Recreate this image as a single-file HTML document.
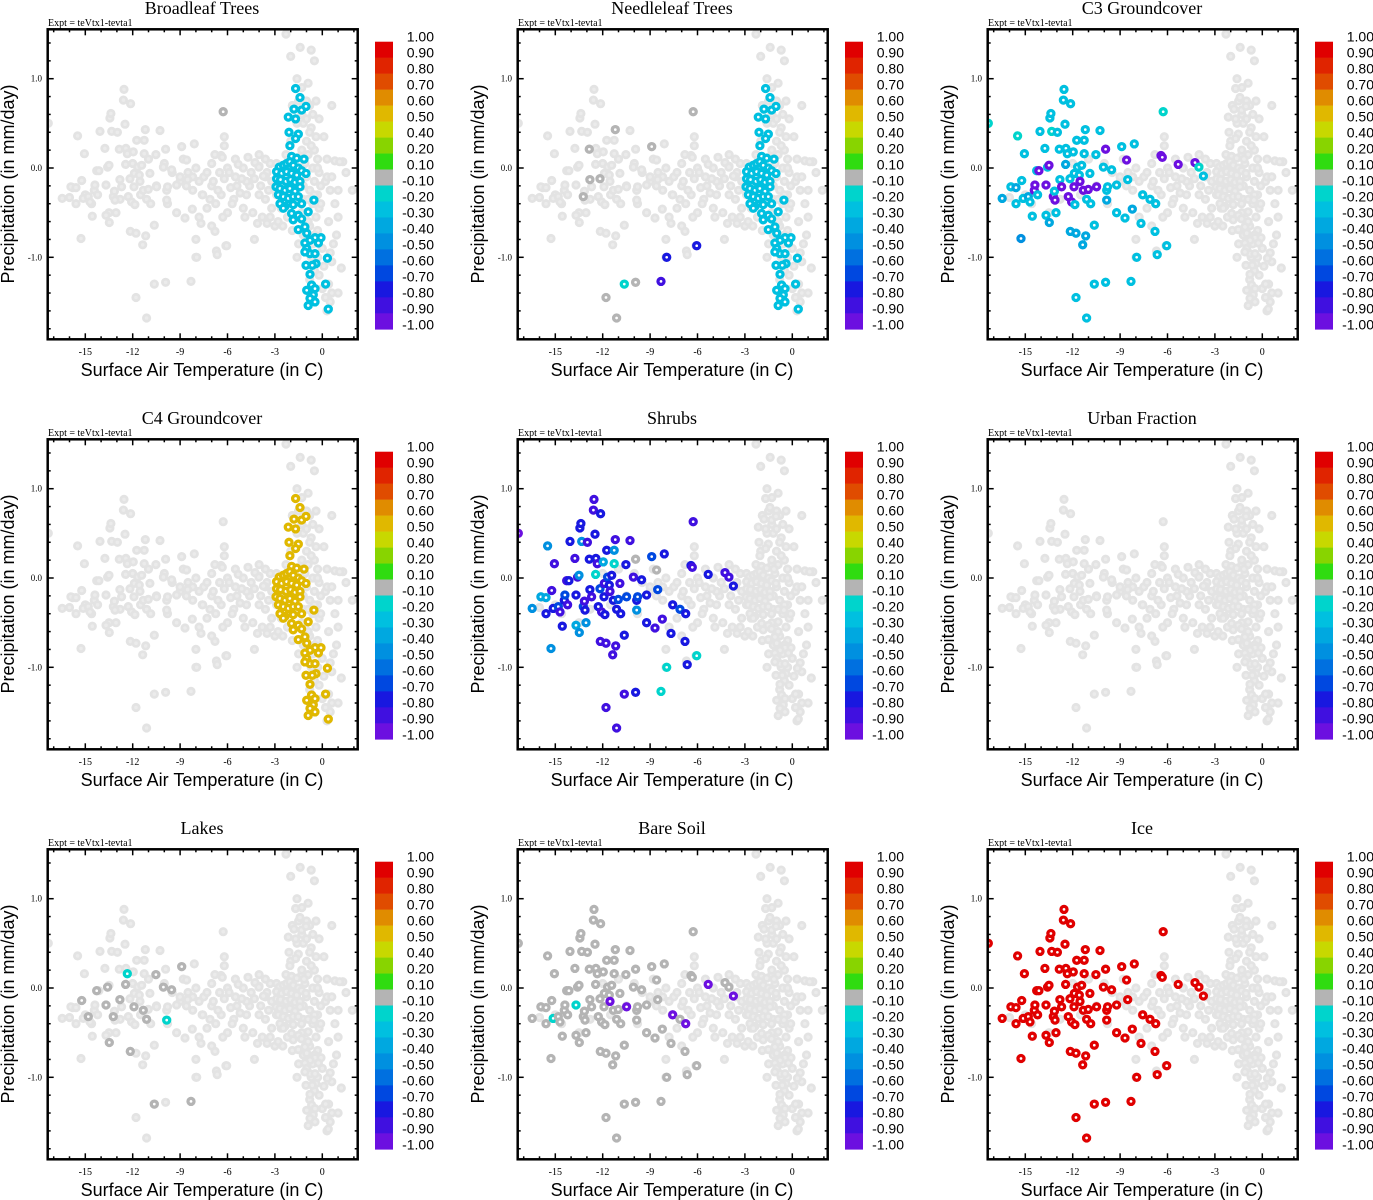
<!DOCTYPE html>
<html><head><meta charset="utf-8">
<style>
html,body{margin:0;padding:0;background:#fff;}
body{width:1373px;height:1200px;overflow:hidden;}
svg{display:block;}
.serif{font-family:"Liberation Serif",serif;}
.sans{font-family:"Liberation Sans",sans-serif;}
</style></head>
<body>
<svg id="fig" width="1373" height="1200" viewBox="0 0 1373 1200" xmlns="http://www.w3.org/2000/svg"></svg>
<script>
// ---- data ----
const panelTitles = ["Broadleaf Trees","Needleleaf Trees","C3 Groundcover","C4 Groundcover","Shrubs","Urban Fraction","Lakes","Bare Soil","Ice"];
const xTickVals = [-15,-12,-9,-6,-3,0];
const xTickLabels = ["-15","-12","-9","-6","-3","0"];
const yTickVals = [1,0,-1];
const yTickLabels = ["1.0","0.0","-1.0"];
const cbarLabels = ["1.00","0.90","0.80","0.70","0.60","0.50","0.40","0.20","0.10","-0.10","-0.20","-0.30","-0.40","-0.50","-0.60","-0.70","-0.80","-0.90","-1.00"];
const cbarBounds = [1.0,0.9,0.8,0.7,0.6,0.5,0.4,0.2,0.1,-0.1,-0.2,-0.3,-0.4,-0.5,-0.6,-0.7,-0.8,-0.9,-1.0];
const cbarColors = ["#e00000","#e02400","#e04c00","#e08c00","#e0b800","#c8d800","#88d400","#30dc10","#b4b4b4","#00d4cc","#00c0e0","#00a8e0","#0090e0","#0070e0","#0048e0","#1818e0","#4010e0","#6c10e0"];

// warm (vertical band) points
const warmX = [-1.69,-1.41,-1.79,-1.31,-1.03,-2.15,-1.69,-2.11,-1.52,-1.69,-2.05,-1.94,-1.62,-1.16,-2.72,-2.47,-2.26,-2.05,-1.84,-1.52,-1.31,-1.03,-2.89,-2.57,-2.26,-1.94,-1.62,-2.89,-2.64,-2.30,-2.00,-1.73,-1.41,-2.93,-2.68,-2.36,-2.05,-1.73,-1.41,-2.78,-2.47,-2.15,-1.84,-1.52,-0.53,-2.68,-2.36,-1.84,-1.31,-2.47,-1.94,-1.52,-0.89,-1.84,-1.31,-1.10,-1.52,-0.99,-0.46,-0.08,-0.78,-0.25,-1.10,-0.99,-0.78,-0.46,-1.10,-0.40,-0.63,-1.03,0.32,-0.78,-0.68,-0.46,-0.99,-0.57,-0.78,-0.46,-0.89,0.21,0.38];
const warmY = [0.89,0.79,0.66,0.65,0.69,0.57,0.55,0.40,0.38,0.33,0.25,0.13,0.11,0.10,0.01,0.03,0.05,0.07,0.03,0.00,-0.03,-0.06,-0.04,-0.06,-0.04,-0.06,-0.08,-0.12,-0.13,-0.15,-0.13,-0.16,-0.15,-0.21,-0.23,-0.25,-0.23,-0.26,-0.21,-0.30,-0.32,-0.34,-0.32,-0.32,-0.36,-0.40,-0.43,-0.41,-0.40,-0.45,-0.51,-0.53,-0.49,-0.58,-0.57,-0.66,-0.69,-0.73,-0.78,-0.78,-0.81,-0.84,-0.84,-0.90,-0.96,-0.96,-0.94,-1.07,-1.09,-1.09,-1.01,-1.19,-1.31,-1.35,-1.37,-1.42,-1.46,-1.50,-1.54,-1.30,-1.58];
// value of warm points per panel (null = not shown)
const warmPanelValue = [-0.25,-0.25,null,0.55,null,null,null,null,null];

// cold (scattered) points
const coldX = [-17.34,-15.49,-15.06,-16.46,-15.59,-15.27,-15.91,-15.59,-15.23,-15.13,-14.81,-14.70,-14.56,-14.43,-14.28,-14.14,-14.39,-14.22,-14.07,-13.76,-13.69,-13.69,-13.59,-13.50,-13.48,-13.44,-13.38,-13.33,-13.23,-13.16,-13.12,-13.06,-12.97,-12.85,-12.81,-12.70,-12.55,-12.59,-12.49,-12.45,-12.43,-12.34,-12.28,-12.17,-12.15,-12.13,-12.07,-11.96,-11.92,-11.90,-11.86,-11.79,-11.75,-11.69,-11.58,-11.54,-11.43,-11.37,-11.33,-11.27,-11.27,-11.20,-11.18,-11.12,-11.01,-10.91,-10.86,-10.63,-10.63,-10.53,-10.49,-10.27,-10.06,-9.92,-9.92,-9.85,-9.85,-9.79,-9.54,-9.22,-9.22,-8.90,-8.59,-8.52,-8.69,-8.31,-8.23,-8.10,-7.95,-7.68,-7.57,-7.11,-6.79,-6.75,-6.65,-6.41,-6.33,-6.27,-6.05,-5.32,-4.26,-4.01,-3.73,-11.79,-11.12];
const coldY = [0.50,0.36,0.16,-0.34,-0.40,-0.79,-0.21,-0.22,-0.14,-0.34,-0.32,-0.38,-0.54,-0.25,-0.03,-0.03,-0.19,-0.30,0.41,0.22,-0.19,-0.53,0.01,0.03,-0.61,0.56,0.61,0.41,-0.32,-0.26,-0.36,-0.50,0.40,0.21,-0.13,-0.21,0.88,0.76,0.49,0.04,0.22,0.16,-0.32,-0.12,-0.71,0.72,-0.38,0.18,-0.21,-0.06,-0.41,-0.73,0.31,0.01,-0.08,-0.15,0.03,-0.86,-0.25,0.31,0.16,0.43,-0.76,-0.35,-0.24,-0.06,-0.40,-0.64,-1.30,0.15,-0.21,0.42,0.01,0.21,-1.28,-0.25,-0.36,-0.21,-0.02,-0.19,-0.50,0.24,0.09,-0.13,-0.56,-1.27,-0.46,0.27,-1.00,-0.62,-0.30,-0.35,-0.71,-0.40,-0.97,0.14,0.12,0.63,-0.87,0.04,0.06,0.01,-0.09,-1.45,-1.68];

const c3Vals = [-0.15,-0.15,-0.25,-0.35,-0.25,-0.45,-0.25,-0.35,-0.25,-0.25,-0.35,-0.25,-0.25,-0.95,-0.25,
-0.95,-0.95,-0.25,-0.25,-0.25,-0.95,-0.25,-0.25,-0.95,-0.35,-0.25,-0.25,-0.15,-0.95,-0.25,
-0.95,-0.25,-0.25,-0.25,-0.25,-0.95,-0.25,-0.25,-0.25,-0.35,-0.25,-0.25,-0.95,-0.25,-0.35,
-0.25,-0.95,-0.25,-0.95,-0.25,-0.25,-0.35,-0.25,-0.25,-0.25,-0.95,-0.25,-0.35,-0.95,-0.25,
-0.25,-0.25,-0.35,-0.25,-0.95,-0.25,-0.25,-0.25,-0.25,-0.25,-0.95,-0.25,-0.25,-0.95,-0.25,
-0.25,-0.35,-0.25,-0.25,-0.25,-0.25,-0.25,-0.95,-0.25,-0.25,-0.25,-0.35,-0.25,-0.25,-0.25,
-0.25,-0.25,-0.25,-0.25,-0.25,-0.95,-0.95,-0.15,-0.25,-0.95,-0.95,-0.15,-0.25,-0.25,-0.25];
const shrubVals = [-0.95,-0.45,-0.85,-0.45,-0.75,-0.45,-0.35,-0.35,-0.85,-0.75,-0.65,-0.85,-0.75,-0.75,-0.85,
-0.75,-0.65,-0.85,-0.75,-0.85,-0.75,-0.35,-0.85,-0.45,-0.45,-0.75,-0.75,-0.45,-0.65,-0.85,
-0.75,-0.45,-0.85,-0.75,-0.75,-0.85,-0.85,-0.85,-0.75,-0.15,-0.75,-0.85,-0.75,-0.65,-0.85,
-0.75,-0.85,-0.35,-0.75,-0.85,-0.75,-0.85,-0.75,-0.65,-0.75,-0.85,-0.75,-0.85,-0.75,-0.45,
-0.15,-0.85,-0.85,-0.75,-0.65,-0.85,-0.75,-0.75,-0.85,-0.75,-0.65,-0.85,-0.85,-0.05,-0.75,
-0.75,-0.45,-0.65,-0.75,-0.75,-0.75,-0.65,-0.05,-0.65,-0.85,-0.15,-0.85,-0.75,-0.15,-0.75,
-0.75,-0.65,-0.75,-0.75,-0.75,-0.75,-0.85,-0.85,-0.15,-0.75,-0.85,-0.85,-0.75,-0.85,-0.85];
const bareVals = [-0.05,-0.05,-0.05,-0.05,-0.05,-0.05,-0.05,-0.05,-0.05,-0.15,-0.05,-0.05,-0.05,-0.05,-0.05,
-0.05,-0.05,-0.05,-0.05,-0.05,-0.15,-0.05,-0.05,-0.05,-0.05,-0.05,-0.05,-0.05,-0.05,-0.05,
-0.05,-0.05,-0.05,-0.05,-0.05,-0.05,-0.05,-0.05,-0.05,-0.05,-0.05,-0.05,-0.05,-0.05,-0.05,
-0.05,-0.05,-0.05,-0.05,-0.05,-0.05,-0.05,-0.05,-0.05,-0.05,-0.95,-0.05,-0.05,-0.05,-0.05,
-0.05,-0.05,-0.05,-0.05,-0.05,-0.05,-0.05,-0.05,-0.05,-0.05,-0.95,-0.05,-0.05,-0.05,-0.05,
-0.05,-0.05,-0.05,-0.05,-0.05,-0.05,-0.05,-0.05,-0.05,-0.05,-0.05,-0.05,-0.05,-0.05,-0.05,
-0.95,-0.05,-0.05,-0.95,-0.05,-0.05,-0.05,-0.05,-0.05,-0.95,-0.05,-0.05,-0.95,-0.05,-0.05];
const iceVals = [1,1,1,1,1,1,1,1,1,1,1,1,1,1,1,
1,1,1,1,1,1,1,1,1,1,1,1,1,1,1,
1,1,1,1,1,1,1,1,1,1,1,1,1,1,1,
1,1,1,1,1,1,1,1,1,1,1,1,1,1,1,
1,1,1,1,1,1,1,1,1,1,1,1,1,1,1,
1,1,1,1,1,1,1,1,1,1,1,1,1,1,1,
1,1,1,1,1,1,1,1,1,1,1,1,1,1,1];
// sparse selections (indices into cold set, and their values)
const broadIdx = [97];
const broadVal = [-0.05];
const needleIdx = [28,33,34,43,61,74,97,103,104,81,88,98,85,68];
const needleVal = [-0.05,-0.05,-0.05,-0.05,-0.05,-0.05,-0.05,-0.05,-0.05,-0.05,-0.75,-0.75,-0.85,-0.15];
const lakeIdx = [8,10,14,20,22,24,28,34,39,44,48,58,63,68,69,72,78,81,85,41,76];
const lakeVal = [-0.05,-0.05,-0.05,-0.05,-0.05,-0.05,-0.05,-0.05,-0.05,-0.05,-0.05,-0.05,-0.05,-0.05,-0.05,-0.05,-0.05,-0.05,-0.05,-0.15,-0.15];

// extra background-only points
const bgX = [-8.5,-8,-7.5,-7,-6.5,-6,-5.5,-5,-4.5,-4,-3.5,-8.2,-7.6,-7,-6.4,-5.8,-5.2,-4.6,-4,-3.4,-6.8,-6.2,-5.5,-4.7,-4,-3.3,-4.4,-3.8,-3.2,-5,-6,-7.8,-6.3,-3.0,-4.3,-7,-8,-6.7,-6.1,-8,-6.2,
-1.0,-0.8,-0.6,-1.2,-0.7,-0.4,-1.0,-0.5,-0.9,-0.3,-1.1,-0.6,-0.2,-1.0,-0.5,-0.1,-0.8,-0.3,0.2,-0.6,-0.2,-1.0,-0.4,-0.8,-0.3,-0.6,0.0,-0.3,0.1,-0.5,0.4,0.2,0.5,0.3,0.6,1.2,1.0,1.5,1.3,0.8,1.1,0.3,0.5,0.8,1.0,1.9,0.6,-1.6,-2.0,-1.4,-0.7,-0.5,-2.3,-2.5,-2.0,0.1,-0.2,0.3,0.9,0.5,0.7,-1.5,
-16,-15.8,-15,-14.6,-13.5,-12.8,-11.5,-10.5,-9.5,-9,-10,-11,-12,-8.8,-9.8,-2.3,-3.6,-4.8,-5.6,-2.7,-1.2,-0.9,-1.3,
-9,-8.6,-8.2,-7.8,-7.3,-6.9,-6.6,-6.2,-5.9,-5.4,-5.1,-4.8,-4.3,-3.9,-3.6,-3.2,-2.9,-2.6,-2.2,-3.3,-2.6,-2.3,-2.9,-3.6,-5.7,-4.9,-4.1,-3.5,-2.8,-7.3,
-1.3,-1.0,-0.8,-1.3,-0.7,-1.2,-0.9,-1.3,-0.5,-0.1,-0.9,-1.2,-0.5,-0.7,-0.2,-0.8,0.0,0.6,0.4,0.6,1.0,-1.6,-1.9,-1.5,-0.4,-0.9,-1.3,-1.9,-1.6,-0.3];
const bgY = [-0.05,0.0,-0.1,0.05,-0.05,0.0,-0.1,0.0,-0.05,0.02,-0.05,-0.25,-0.3,-0.2,-0.3,-0.22,-0.28,-0.2,-0.3,-0.25,0.15,0.25,0.1,0.12,0.15,0.05,-0.5,-0.55,-0.45,-0.45,-0.5,-0.55,-0.55,-0.65,-0.8,-0.65,-0.8,-0.93,-0.87,-1.0,0.35,
0.75,0.7,0.6,0.5,0.45,0.35,0.3,0.2,0.15,0.1,0.05,0.0,-0.05,-0.1,-0.15,-0.2,-0.25,-0.3,-0.15,-0.4,-0.45,-0.5,-0.55,-0.65,-0.7,-0.85,-0.9,-1.0,-1.1,-1.15,-1.3,-1.45,-1.5,-1.6,-1.4,-1.12,-1.4,-0.05,0.07,0.08,0.07,0.1,-0.25,-0.4,-0.25,-0.25,0.7,1.0,1.25,1.35,1.32,1.2,0.15,-0.65,0.3,0.35,0.55,-0.1,-0.75,-0.95,-0.85,-0.85,
-0.33,-0.22,-0.3,-0.4,-0.5,-0.35,-0.3,-0.2,-0.05,-0.15,0.05,0.1,0.05,0.1,-0.4,1.5,-0.1,-0.15,-0.35,0.0,-0.35,-0.6,0.15,
-0.1,-0.2,-0.1,-0.15,-0.05,-0.15,-0.25,-0.12,-0.05,-0.2,-0.12,-0.3,-0.12,-0.2,-0.35,-0.15,-0.3,-0.45,-0.55,-0.55,-0.2,0.0,0.05,0.1,-0.4,-0.55,-0.62,-0.62,-0.6,-0.45,
0.6,0.55,0.4,0.2,0.25,-0.2,-0.35,-0.5,-0.3,-0.4,-0.6,-0.75,-0.75,-1.0,-1.2,-1.25,-1.35,-1.05,-0.6,-0.1,-0.55,0.5,0.7,0.75,0.75,0.95,0.9,-0.7,-1.0,0.0];

// ---- drawing ----
const NS = "http://www.w3.org/2000/svg";
const fig = document.getElementById("fig");
const sx = v => 322.3 + v * 15.8;
const sy = v => 168 - v * 89.3;
function colorFor(v){
  for (let k = 0; k < cbarColors.length; k++){
    if (v <= cbarBounds[k] && v >= cbarBounds[k+1]) return cbarColors[k];
  }
  return v > 1 ? cbarColors[0] : cbarColors[cbarColors.length-1];
}
function mk(tag, attrs, parent){
  const e = document.createElementNS(NS, tag);
  for (const k in attrs) e.setAttribute(k, attrs[k]);
  parent.appendChild(e);
  return e;
}
function txt(parent, s, x, y, cls, size, anchor){
  const t = mk("text", {x:x, y:y, "font-size":size, "text-anchor":anchor||"middle", fill:"#000"}, parent);
  t.setAttribute("class", cls);
  t.textContent = s;
  return t;
}
function panelColored(p){
  const out = [];
  const wv = warmPanelValue[p];
  if (wv !== null) for (let i = 0; i < warmX.length; i++) out.push([warmX[i], warmY[i], wv]);
  let dense = null, idx = null, vals = null;
  if (p === 2) dense = c3Vals;
  if (p === 4) dense = shrubVals;
  if (p === 7) dense = bareVals;
  if (p === 8) dense = iceVals;
  if (p === 0){ idx = broadIdx; vals = broadVal; }
  if (p === 1){ idx = needleIdx; vals = needleVal; }
  if (p === 6){ idx = lakeIdx; vals = lakeVal; }
  if (dense) for (let i = 0; i < coldX.length; i++) if (dense[i] !== null) out.push([coldX[i], coldY[i], dense[i]]);
  if (idx) for (let j = 0; j < idx.length; j++) out.push([coldX[idx[j]], coldY[idx[j]], vals[j]]);
  return out;
}

const L = 47.7, R = 357.7, T = 29.3, B = 339.3;
for (let p = 0; p < 9; p++){
  const col = p % 3, row = Math.floor(p / 3);
  const g = mk("g", {transform:`translate(${col*470},${row*410})`}, fig);
  
  

  const title = txt(g, panelTitles[p], 202, 14, "serif", 18);
  
  
  const ex = txt(g, "Expt = teVtx1-tevta1", 48, 26, "serif", 10, "start");
  
  

  const cpId = "clip" + p;
  const cp = mk("clipPath", {id:cpId}, g);
  mk("rect", {x:L, y:T, width:R-L, height:B-T}, cp);

  const bg = mk("g", {"clip-path":`url(#${cpId})`}, g);
  
  
  const allBX = bgX.concat(warmX, coldX), allBY = bgY.concat(warmY, coldY);
  for (let i = 0; i < allBX.length; i++){
    const c = mk("circle", {cx:sx(allBX[i]).toFixed(1), cy:sy(allBY[i]).toFixed(1), r:3.2, fill:"#ebebeb", stroke:"#e3e3e3", "stroke-width":2.8}, bg);
    
    
  }
  const fg = mk("g", {"clip-path":`url(#${cpId})`}, g);
  
  
  for (const [x, y, v] of panelColored(p)){
    const col = colorFor(v);
    const c = mk("circle", {cx:sx(x).toFixed(1), cy:sy(y).toFixed(1), r:3.0, fill:"#ffffff", stroke:col, "stroke-width":3.3}, fg);
    
    
  }

  const fr = mk("rect", {x:L, y:T, width:R-L, height:B-T, fill:"none", stroke:"#000", "stroke-width":2.5}, g);
  
  

  const tk = mk("g", {stroke:"#000", "stroke-width":1.5}, g);
  
  
  for (let v = -17; v <= 2; v++){
    const X = sx(v); if (X < L+1 || X > R-1) continue;
    const len = (v % 3 === 0) ? 6 : 3;
    mk("line", {x1:X, y1:B, x2:X, y2:B-len}, tk);
    mk("line", {x1:X, y1:T, x2:X, y2:T+len}, tk);
  }
  for (let k = -9; k <= 7; k++){
    const v = k * 0.2, Y = sy(v); if (Y < T+1 || Y > B-1) continue;
    const len = (k % 5 === 0) ? 6 : 3;
    mk("line", {x1:L, y1:Y, x2:L+len, y2:Y}, tk);
    mk("line", {x1:R, y1:Y, x2:R-len, y2:Y}, tk);
  }
  for (let i = 0; i < xTickVals.length; i++){
    const t = txt(g, xTickLabels[i], sx(xTickVals[i]), 355, "serif", 10);
    
    
  }
  for (let i = 0; i < yTickVals.length; i++){
    const t = txt(g, yTickLabels[i], 42, sy(yTickVals[i]) + 3, "serif", 9, "end");
    
    
  }
  const xt = txt(g, "Surface Air Temperature (in C)", 202, 376, "sans", 18);
  
  
  const yt = txt(g, "Precipitation (in mm/day)", 0, 0, "sans", 18);
  yt.setAttribute("transform", "translate(14,184) rotate(-90)");
  
  

  const cb = mk("g", {}, g);
  
  
  const segH = (329.3 - 41.7) / cbarColors.length;
  for (let k = 0; k < cbarColors.length; k++){
    const r = mk("rect", {x:375, y:(41.7 + k*segH).toFixed(2), width:18, height:(segH+0.3).toFixed(2), fill:cbarColors[k]}, cb);
    
    
  }
  for (let k = 0; k < cbarLabels.length; k++){
    const t = txt(cb, cbarLabels[k], 434, 36.7 + k*16 + 5, "sans", 14, "end");
    
    
  }
}
</script>
</body></html>
